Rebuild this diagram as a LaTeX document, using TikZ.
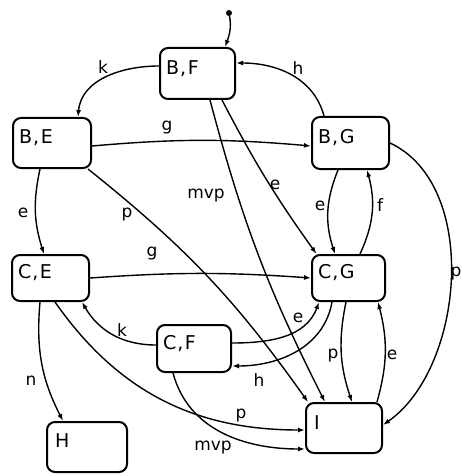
\documentclass[tikz,border=0pt]{standalone}
\usepackage{fontspec}
\setmainfont{DejaVu Sans}
\usetikzlibrary{arrows.meta}
\begin{document}
\begin{tikzpicture}[x=1pt,y=-1pt,
  stbox/.style={draw, line width=2pt, rounded corners=8pt, inner sep=0pt},
  stname/.style={font=\fontsize{19}{22}\selectfont, inner sep=0pt, anchor=west},
  elab/.style={font=\fontsize{17}{20}\selectfont, inner sep=0pt},
  tr/.style={line width=1.4pt, -{Latex[length=7pt,width=5pt]}},
]
\useasboundingbox (0,0) rectangle (462,476);
% states
\node[stbox, minimum width=75pt, minimum height=51pt] (bf) at (197.5,73.5) {};
\node[stbox, minimum width=78pt, minimum height=50pt] (be) at (52,143) {};
\node[stbox, minimum width=77pt, minimum height=52pt] (bg) at (350.5,143) {};
\node[stbox, minimum width=77pt, minimum height=46pt] (ce) at (50.5,278) {};
\node[stbox, minimum width=74pt, minimum height=47pt] (cf) at (194,348.5) {};
\node[stbox, minimum width=73pt, minimum height=46pt] (cg) at (348.5,278) {};
\node[stbox, minimum width=76pt, minimum height=50pt] (i) at (344,428) {};
\node[stbox, minimum width=80pt, minimum height=50pt] (h) at (87,447) {};
% state names
\node[stname] (bft) at ([shift={(7pt,5pt)}]bf.west) {B\kern1pt,\kern1.5ptF};
\node[stname] (bet) at ([shift={(7pt,5pt)}]be.west) {B\kern1pt,\kern1.5ptE};
\node[stname] (bgt) at ([shift={(7pt,5pt)}]bg.west) {B\kern1pt,\kern1.5ptG};
\node[stname] (cet) at ([shift={(7pt,5pt)}]ce.west) {C\kern1pt,\kern1.5ptE};
\node[stname] (cft) at ([shift={(7pt,5pt)}]cf.west) {C\kern1pt,\kern1.5ptF};
\node[stname] (cgt) at ([shift={(7pt,5pt)}]cg.west) {C\kern1pt,\kern1.5ptG};
\node[stname] (it) at ([shift={(9pt,5pt)}]i.west) {I};
\node[stname] (ht) at ([shift={(9pt,6pt)}]h.west) {H};
% initial
\node[fill, circle, inner sep=0pt, minimum size=6pt] (init) at (229,13) {};
\draw[tr] (init) to[out=-80,in=70] ([xshift=27.5pt]bf.north);
% transitions
\draw[tr] ([yshift=7.5pt]bf.west) to[out=180,in=85] ([xshift=26pt]be.north);
\draw[tr] ([xshift=-26.5pt]bg.north) to[out=105,in=0] ([yshift=10.5pt]bf.east);
\draw[tr] ([yshift=-3pt]be.east) to[bend left=5] ([yshift=-3pt]bg.west);
\draw[tr] ([xshift=-12pt]be.south) to[bend right=15] ([xshift=-6.5pt]ce.north);
\draw[tr] ([xshift=-4pt]be.south east) to[bend left=8] ([xshift=3pt]i.north west);
\draw[tr] ([xshift=12.5pt]bf.south) to[bend right=6] ([xshift=-19pt]i.north);
\draw[tr] ([xshift=24.5pt]bf.south) to[bend right=4] ([xshift=-32pt]cg.north);
\draw[tr] ([xshift=-12.5pt]bg.south) to[bend right=20] ([xshift=-13.5pt]cg.north);
\draw[tr] ([xshift=11.5pt]cg.north) to[bend right=20] ([xshift=16.5pt]bg.south);
\draw[tr] (bg.east) to[out=-25,in=35,looseness=0.9] ([yshift=3pt]i.east);
\draw[tr] (ce.east) to[bend left=4] (cg.west);
\draw[tr] ([yshift=3.5pt]cf.west) to[out=180,in=-60] ([xshift=-8pt]ce.south east);
\draw[tr] ([yshift=5.5pt]cf.east) to[out=0,in=-110] ([xshift=-29.5pt]cg.south);
\draw[tr] ([xshift=-16.5pt]cg.south) to[out=-100,in=0] ([yshift=-17.5pt]cf.east);
\draw[tr] ([xshift=-2.5pt]cg.south) to[bend right=15] ([xshift=8pt]i.north);
\draw[tr] ([xshift=33pt]i.north) to[bend right=15] ([xshift=29.5pt]cg.south);
\draw[tr] ([xshift=-10.5pt]ce.south) to[out=-95,in=117] ([xshift=-24pt]h.north);
\draw[tr] ([xshift=4.5pt]ce.south) to[out=-55,in=180] ([yshift=-2pt]i.west);
\draw[tr] ([xshift=-21pt]cf.south) to[out=-75,in=180] ([yshift=5pt]i.south west);
% labels
\node[elab] (lk1) at (103,67) {k};
\node[elab] (lh1) at (298,68) {h};
\node[elab] (lg1) at (167,128) {g};
\node[elab] (lmvp1) at (206,196) {mvp};
\node[elab] (le1) at (23,213) {e};
\node[elab] (lp1) at (127,215) {p};
\node[elab] (le5) at (275,185) {e};
\node[elab] (le2) at (320,206) {e};
\node[elab] (lf) at (380,205) {f};
\node[elab] (lp2) at (456,274) {p};
\node[elab] (lg2) at (152,254) {g};
\node[elab] (lk2) at (122,330) {k};
\node[elab] (le3) at (298,318) {e};
\node[elab] (lh2) at (259,380) {h};
\node[elab] (lp3) at (333,356) {p};
\node[elab] (le4) at (392,355) {e};
\node[elab] (ln) at (31,381) {n};
\node[elab] (lp4) at (241,416) {p};
\node[elab] (lmvp2) at (213,448) {mvp};
\end{tikzpicture}
\end{document}
